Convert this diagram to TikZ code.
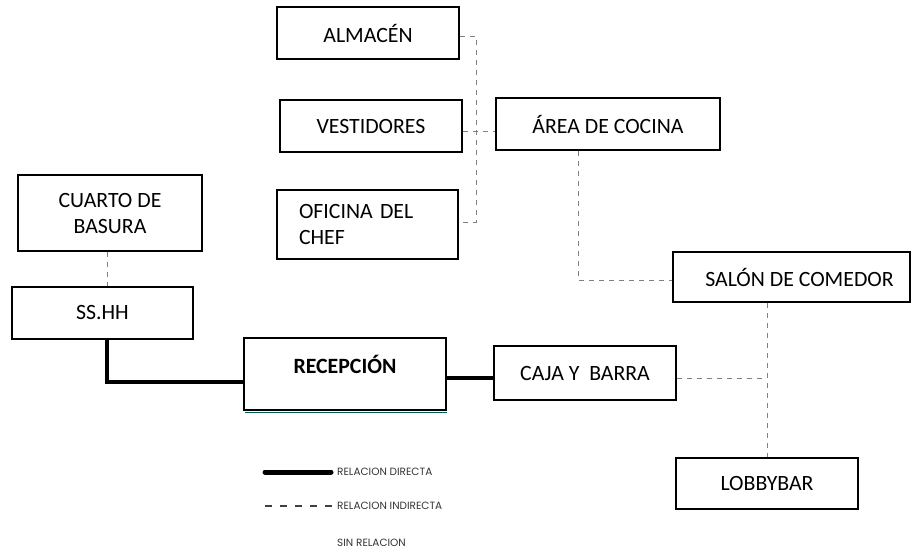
\documentclass[tikz,border=0pt]{standalone}
\usepackage{fontspec}
\setmainfont{Carlito}
\newfontfamily\legfont{Poppins}
\begin{document}
\begin{tikzpicture}[x=1pt,y=-1pt,
  box/.style={draw=black,line width=2.2pt,rectangle,inner sep=0pt,
    font=\fontsize{21.8}{26}\selectfont,align=center},
  ind/.style={draw=black!50,line width=1pt,dash pattern=on 5pt off 5pt},
  dir/.style={draw=black,line width=4pt},
  leg/.style={anchor=west,font=\legfont\fontsize{10.5}{12}\selectfont,text=black!80,inner sep=0pt}]
\useasboundingbox (0,0) rectangle (924,550);
% boxes
\node[box,minimum width=182,minimum height=52] (alm) at (368,33) {ALMAC\'EN};
\node[box,minimum width=182,minimum height=52] (ves) at (371,126) {VESTIDORES};
\node[box,minimum width=181,minimum height=69,align=left,text width=137,inner xsep=0pt] (ofi) at (367.5,224.5) {OFICINA DEL\\CHEF};
\node[box,minimum width=224,minimum height=52] (area) at (608,124) {\'AREA DE COCINA};
\node[box,minimum width=184,minimum height=76] (cuarto) at (110,213) {CUARTO DE\\BASURA};
\node[box,minimum width=181,minimum height=52] (ss) at (102.5,313) {SS.HH};
\draw[teal!70!black,line width=1pt] (245,412) -- (447,412);
\node[box,minimum width=202,minimum height=72,text depth=20pt,font=\fontsize{21.8}{26}\selectfont\bfseries] (recep) at (345,374) {RECEPCI\'ON};
\node[box,minimum width=182,minimum height=54] (caja) at (585,373) {CAJA Y\ \ BARRA};
\node[box,minimum width=237,minimum height=50] (salon) at (791.5,277) {\hspace{16pt}SAL\'ON DE COMEDOR};
\node[box,minimum width=182,minimum height=51] (lobby) at (767,483.5) {LOBBYBAR};
% indirect connectors
\coordinate (almR) at ([yshift=-3pt]alm.east);
\coordinate (ofiR) at ([yshift=2.5pt]ofi.east);
\draw[ind] (almR) -- (476,36) -- (476,222) -- (ofiR);
\draw[ind] ([yshift=-5pt]ves.east) -- ([yshift=-5pt]ves.east -| area.west);
\draw[ind] ([xshift=-30pt]area.south) |- ([yshift=-3pt]salon.west);
\draw[ind] (lobby.north |- salon.south) -- (lobby.north);
\draw[ind] ([yshift=-5pt]caja.east) -- ([yshift=-5pt]caja.east -| lobby.north);
\draw[ind] (cuarto.south -| 107,0) -- (ss.north -| 107,0);
% direct connectors
\draw[dir] ([xshift=4.5pt]ss.south) |- ([yshift=-8pt]recep.west);
\draw[dir] ([yshift=-4pt]recep.east) -- ([yshift=-4pt]recep.east -| caja.west);
% legend
\coordinate (la) at (265,472);
\coordinate (lb) at (331,472);
\draw[line width=5pt,line cap=round] (la) -- (lb);
\node[leg] (t1) at (337,472) {RELACION DIRECTA};
\coordinate (lc) at (265,506);
\coordinate (ld) at (332,506);
\draw[draw=black!75,line width=1.2pt,dash pattern=on 7pt off 8pt] (lc) -- (ld);
\node[leg] (t2) at (337,506) {RELACION INDIRECTA};
\node[leg] (t3) at (337,543) {SIN RELACION};
\end{tikzpicture}
\end{document}
